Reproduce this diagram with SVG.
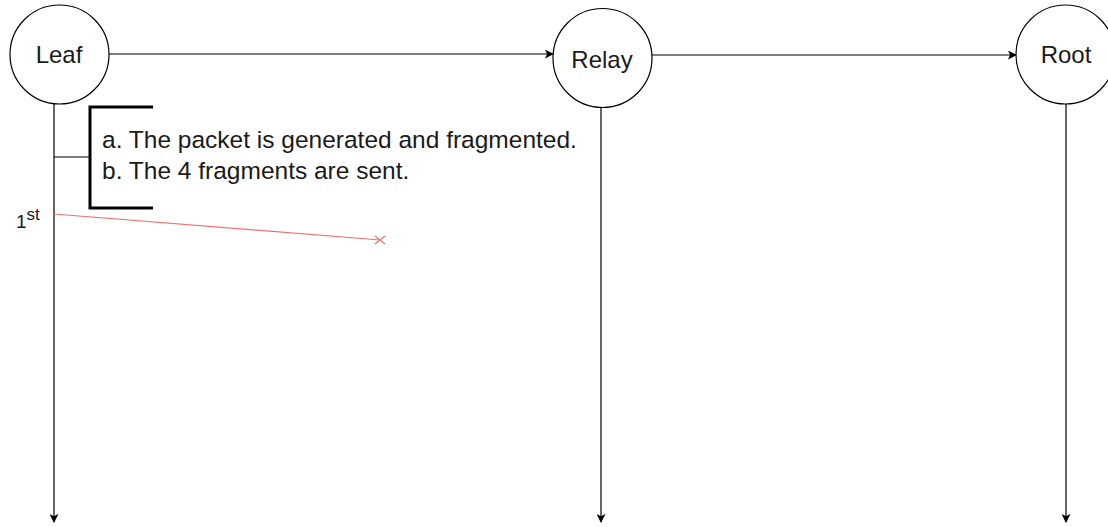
<svg xmlns="http://www.w3.org/2000/svg" width="1108" height="527" viewBox="0 0 1108 527">
<style>
.node{fill:#fff;stroke:#000;stroke-width:1.2}
.lbl{font-family:"Liberation Sans",Arial,sans-serif;font-size:24px;fill:#1a1a1a;text-anchor:middle}
.conn{stroke:#000;stroke-width:1.2;fill:none}
.note{font-family:"Liberation Sans",Arial,sans-serif;font-size:24.5px;fill:#1a1a1a}
</style>
<defs>
<marker id="ah" viewBox="0 0 10 10" refX="9" refY="5" markerWidth="9" markerHeight="9" markerUnits="userSpaceOnUse" orient="auto">
<path d="M0,0 L10,5 L0,10 L2.5,5 Z" fill="#000"/>
</marker>
</defs>
<rect width="1108" height="527" fill="#fff"/>
<g id="connectors">
<line class="conn" x1="109" y1="54" x2="553" y2="54" marker-end="url(#ah)"/>
<line class="conn" x1="652" y1="55" x2="1016" y2="55" marker-end="url(#ah)"/>
<line class="conn" x1="54" y1="104" x2="54" y2="522" marker-end="url(#ah)"/>
<line class="conn" x1="601" y1="107" x2="601" y2="522" marker-end="url(#ah)"/>
<line class="conn" x1="1066" y1="104" x2="1066" y2="522" marker-end="url(#ah)"/>
<line class="conn" x1="54" y1="157" x2="90" y2="157"/>
<line x1="54" y1="214" x2="380" y2="240" stroke="#f07070" stroke-width="1.2"/>
<path d="M375,236 L385,244 M375,244 L385,236" stroke="#f07070" stroke-width="1.2"/>
</g>
<g id="leaf">
<circle class="node" cx="59.5" cy="54.5" r="49.5"/>
<text class="lbl" x="59" y="63">Leaf</text>
</g>
<g id="relay">
<circle class="node" cx="602.5" cy="58" r="49.5"/>
<text class="lbl" x="602" y="68">Relay</text>
</g>
<g id="root">
<circle class="node" cx="1065.5" cy="54.5" r="49.5"/>
<text class="lbl" x="1066" y="63">Root</text>
</g>
<g id="note">
<path d="M153,107 L90,107 L90,208 L153,208" fill="none" stroke="#000" stroke-width="3"/>
<text class="note" x="102" y="148">a. The packet is generated and fragmented.</text>
<text class="note" x="102" y="179">b. The 4 fragments are sent.</text>
</g>
<g id="first">
<text font-family="Liberation Sans,Arial,sans-serif" font-size="19" fill="#1a1a1a" x="16" y="228">1<tspan font-size="17" dy="-8">st</tspan></text>
</g>
</svg>
